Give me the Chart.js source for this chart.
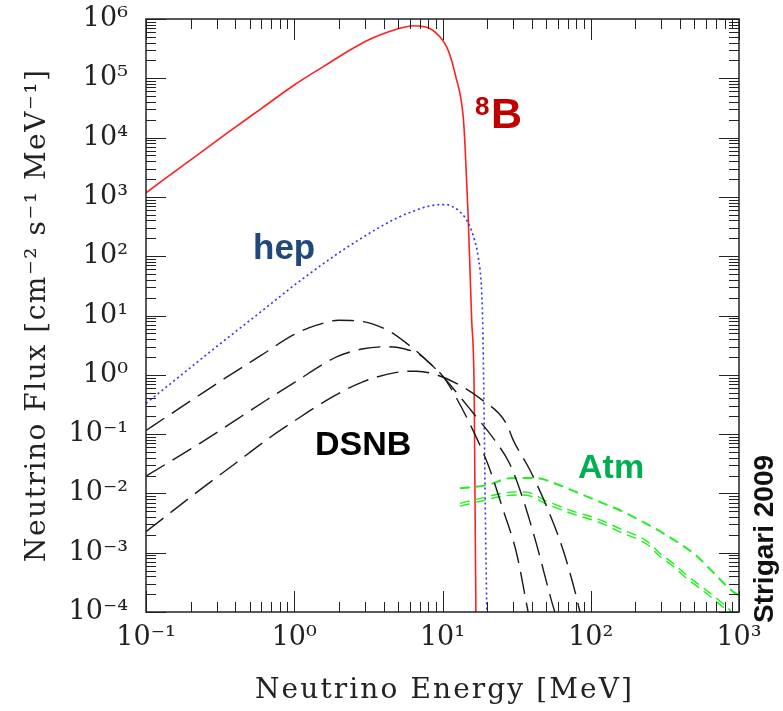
<!DOCTYPE html>
<html>
<head>
<meta charset="utf-8">
<script src="https://cdn.jsdelivr.net/npm/chart.js@4.4.1/dist/chart.umd.min.js"></script>
<style>
  html, body { margin: 0; padding: 0; background: #fff; }
</style>
</head>
<body>
<canvas id="fluxChart" width="783" height="711"></canvas>
<script>
// decades shown on each axis
const xTickValues = [0.1, 1, 10, 100, 1000];
const yTickValues = [1e-4, 1e-3, 1e-2, 1e-1, 1, 10, 100, 1e3, 1e4, 1e5, 1e6];
const minorSteps = [2, 3, 4, 5, 6, 7, 8, 9];

// 8B solar neutrinos
const b8Energy = [0.1, 0.178, 0.35, 0.6, 1.0, 1.6, 2.38, 3.16, 3.78, 4.9, 6.34, 8.22, 9.6, 10.67, 11.5, 12.4, 13.1, 13.8, 14.2, 14.9, 15.7, 16.37, 16.52, 16.8];
const b8Flux = [1175, 3390, 11750, 30900, 77100, 162000, 300000, 443000, 537000, 670000, 771000, 692000, 501000, 339000, 204000, 97700, 56200, 22400, 7080, 468, 9.5, 0.43, 0.022, 0.0001];

// hep solar neutrinos
const hepEnergy = [0.1, 0.153, 0.231, 0.35, 0.6, 1.0, 1.83, 2.7, 3.78, 4.9, 6.34, 8.0, 9.6, 10.67, 11.8, 13.1, 14.1, 15.3, 16.4, 17.4, 18.4, 18.7, 19.0, 19.3, 19.6, 19.95];
const hepFlux = [0.331, 0.776, 1.78, 4.07, 11.7, 32.4, 98, 186, 309, 437, 575, 692, 741, 741, 676, 562, 457, 316, 191, 98, 23.4, 6.3, 0.5, 0.025, 0.00126, 0.000063];

// DSNB, three temperatures
const dsnbEnergyA = [0.1, 0.138, 0.2, 0.35, 0.6, 1.0, 1.4, 2.0, 2.9, 4.4, 6.0, 7.4, 8.2, 10.1, 12.6, 15.8, 19.3, 20.9, 25.7, 31.6, 37.8];
const dsnbFluxA = [0.115, 0.197, 0.363, 0.912, 2.14, 4.8, 6.8, 8.3, 7.9, 5.4, 3.1, 2.0, 1.56, 0.93, 0.38, 0.126, 0.042, 0.025, 0.0052, 0.00098, 0.0001];

const dsnbEnergyB = [0.1, 0.231, 0.65, 1.0, 1.93, 2.92, 4.4, 5.5, 7.05, 9.6, 12.0, 15.8, 22.5, 28.4, 35, 43, 55.8, 57.3];
const dsnbFluxB = [0.0196, 0.07, 0.376, 0.74, 2.0, 2.75, 2.98, 2.75, 2.16, 1.06, 0.56, 0.24, 0.079, 0.0316, 0.0079, 0.00141, 0.000123, 0.0001];

const dsnbEnergyC = [0.1, 0.2, 0.4, 0.7, 1.0, 1.74, 2.9, 4.9, 6.7, 9.1, 12.4, 17.9, 27, 30, 38.8, 50.4, 65, 80, 84.5];
const dsnbFluxC = [0.00226, 0.0087, 0.032, 0.091, 0.166, 0.40, 0.76, 1.10, 1.15, 1.0, 0.72, 0.40, 0.15, 0.079, 0.025, 0.006, 0.00112, 0.00018, 0.0001];

// atmospheric neutrinos
const atmEnergyA = [13.1, 20, 28.4, 38.8, 45.4, 60, 84, 115, 157, 225, 307, 400, 516, 700, 912, 1000];
const atmFluxA = [0.0122, 0.0138, 0.018, 0.0182, 0.0178, 0.0141, 0.01, 0.0072, 0.0052, 0.0033, 0.00214, 0.00141, 0.00089, 0.000417, 0.000219, 0.000191];

const atmEnergyB = [13.1, 19, 25, 31.6, 36.9, 50.4, 80, 109, 160, 238, 292, 360, 442, 557, 705, 867, 1000];
const atmFluxB1 = [0.0068, 0.0085, 0.01, 0.0106, 0.0105, 0.0074, 0.0048, 0.0038, 0.0025, 0.00158, 0.00098, 0.00066, 0.00042, 0.00027, 0.00017, 0.000107, 0.00007];
const atmFluxB2 = [0.0061, 0.0076, 0.0089, 0.0094, 0.0093, 0.0066, 0.0043, 0.0034, 0.0022, 0.0014, 0.00087, 0.00059, 0.00037, 0.00024, 0.00015, 0.000095, 0.000062];

const SUP = { '-': '\u207B', '0': '\u2070', '1': '\u00B9', '2': '\u00B2', '3': '\u00B3', '4': '\u2074', '5': '\u2075', '6': '\u2076', '7': '\u2077', '8': '\u2078', '9': '\u2079' };

function powLabel(v) {
  const e = Math.round(Math.log10(v));
  return '10' + String(e).split('').map(c => SUP[c]).join('');
}

function toPoints(xs, ys) {
  return xs.map((x, i) => ({ x: x, y: ys[i] }));
}

function curve(xs, ys, color, width, dash) {
  return {
    data: toPoints(xs, ys),
    borderColor: color,
    borderWidth: width,
    borderDash: dash,
    pointRadius: 0,
    fill: false,
    cubicInterpolationMode: 'monotone'
  };
}

// draw text spread out to a given width
function spreadText(ctx, text, x, y, width) {
  ctx.letterSpacing = '0px';
  const w = ctx.measureText(text).width;
  const n = [...text].length;
  ctx.letterSpacing = ((width - w) / (n - 1)) + 'px';
  ctx.fillText(text, x, y);
  ctx.letterSpacing = '0px';
}

const frameAndText = {
  id: 'frameAndText',
  afterDraw(chart) {
    const { ctx, chartArea: a, scales: { x, y } } = chart;
    ctx.save();

    // ticks on all four sides, pointing inward
    ctx.strokeStyle = '#222';
    ctx.lineWidth = 1;
    ctx.beginPath();
    xTickValues.forEach(d => {
      [1].concat(minorSteps).forEach(m => {
        const v = d * m;
        if (v > x.max) return;
        const px = Math.round(x.getPixelForValue(v)) + 0.5;
        const len = m === 1 ? 21 : 10;
        ctx.moveTo(px, a.bottom); ctx.lineTo(px, a.bottom - len);
        ctx.moveTo(px, a.top); ctx.lineTo(px, a.top + len);
      });
    });
    yTickValues.forEach(d => {
      [1].concat(minorSteps).forEach(m => {
        const v = d * m;
        if (v > y.max) return;
        const py = Math.round(y.getPixelForValue(v)) + 0.5;
        const len = m === 1 ? 20 : 10;
        ctx.moveTo(a.left, py); ctx.lineTo(a.left + len, py);
        ctx.moveTo(a.right, py); ctx.lineTo(a.right - len, py);
      });
    });
    ctx.stroke();

    ctx.lineWidth = 1.5;
    ctx.strokeRect(a.left, a.top, a.right - a.left, a.bottom - a.top);

    // axis titles
    ctx.fillStyle = '#222';
    ctx.font = '28px "DejaVu Serif"';
    ctx.textAlign = 'left';
    ctx.textBaseline = 'alphabetic';
    spreadText(ctx, 'Neutrino Energy [MeV]', 255, 698, 377);

    ctx.save();
    ctx.translate(45, 562);
    ctx.rotate(-Math.PI / 2);
    spreadText(ctx, 'Neutrino Flux [cm\u207B\u00B2 s\u207B\u00B9 MeV\u207B\u00B9]', 0, 0, 492);
    ctx.restore();

    // curve labels
    ctx.font = 'bold 43px "Liberation Sans"';
    ctx.fillStyle = 'rgb(192,0,0)';
    ctx.fillText('B', 491, 128);
    ctx.font = 'bold 26px "Liberation Sans"';
    ctx.fillText('8', 475, 115);

    ctx.font = 'bold 35px "Liberation Sans"';
    ctx.fillStyle = 'rgb(31,73,125)';
    ctx.fillText('hep', 253, 259);

    ctx.font = 'bold 34px "Liberation Sans"';
    ctx.fillStyle = '#000';
    ctx.fillText('DSNB', 315, 455);

    ctx.fillStyle = 'rgb(0,176,80)';
    ctx.fillText('Atm', 578, 478);

    ctx.save();
    ctx.translate(773, 539);
    ctx.rotate(-Math.PI / 2);
    ctx.font = 'bold 28px "Liberation Sans"';
    ctx.fillStyle = '#111';
    ctx.textAlign = 'center';
    ctx.fillText('Strigari 2009', 0, 0);
    ctx.restore();

    ctx.restore();
  }
};

new Chart(document.getElementById('fluxChart'), {
  type: 'line',
  data: {
    datasets: [
      curve(dsnbEnergyA, dsnbFluxA, '#1a1a1a', 1.4, [22, 9]),
      curve(dsnbEnergyB, dsnbFluxB, '#1a1a1a', 1.4, [22, 9]),
      curve(dsnbEnergyC, dsnbFluxC, '#1a1a1a', 1.4, [22, 9]),
      curve(atmEnergyA, atmFluxA, '#22ee22', 2, [10, 6]),
      curve(atmEnergyB, atmFluxB1, '#22ee22', 1.4, [10, 6]),
      curve(atmEnergyB, atmFluxB2, '#22ee22', 1.4, [10, 6]),
      curve(hepEnergy, hepFlux, '#3030ff', 1.6, [2, 3]),
      curve(b8Energy, b8Flux, '#ff2020', 1.6, [])
    ]
  },
  options: {
    responsive: false,
    animation: false,
    events: [],
    layout: { autoPadding: false, padding: { top: 19, right: 44, bottom: 0, left: 0 } },
    plugins: { legend: { display: false }, tooltip: { enabled: false } },
    scales: {
      x: {
        type: 'logarithmic',
        min: 0.1,
        max: 1000,
        afterBuildTicks: axis => { axis.ticks = xTickValues.map(v => ({ value: v })); },
        afterFit: axis => { axis.height = 99; axis.paddingLeft = 0; axis.paddingRight = 0; },
        grid: { display: false, drawTicks: false },
        border: { display: false },
        ticks: {
          autoSkip: false,
          maxRotation: 0,
          padding: 10,
          color: '#222',
          font: { family: 'DejaVu Serif', size: 27 },
          callback: v => powLabel(v)
        }
      },
      y: {
        type: 'logarithmic',
        min: 1e-4,
        max: 1e6,
        afterBuildTicks: axis => { axis.ticks = yTickValues.map(v => ({ value: v })); },
        afterFit: axis => { axis.width = 146; axis.paddingTop = 0; axis.paddingBottom = 0; },
        grid: { display: false, drawTicks: false },
        border: { display: false },
        ticks: {
          autoSkip: false,
          padding: 18,
          color: '#222',
          font: { family: 'DejaVu Serif', size: 27 },
          callback: v => powLabel(v)
        }
      }
    }
  },
  plugins: [frameAndText]
});
</script>
</body>
</html>
